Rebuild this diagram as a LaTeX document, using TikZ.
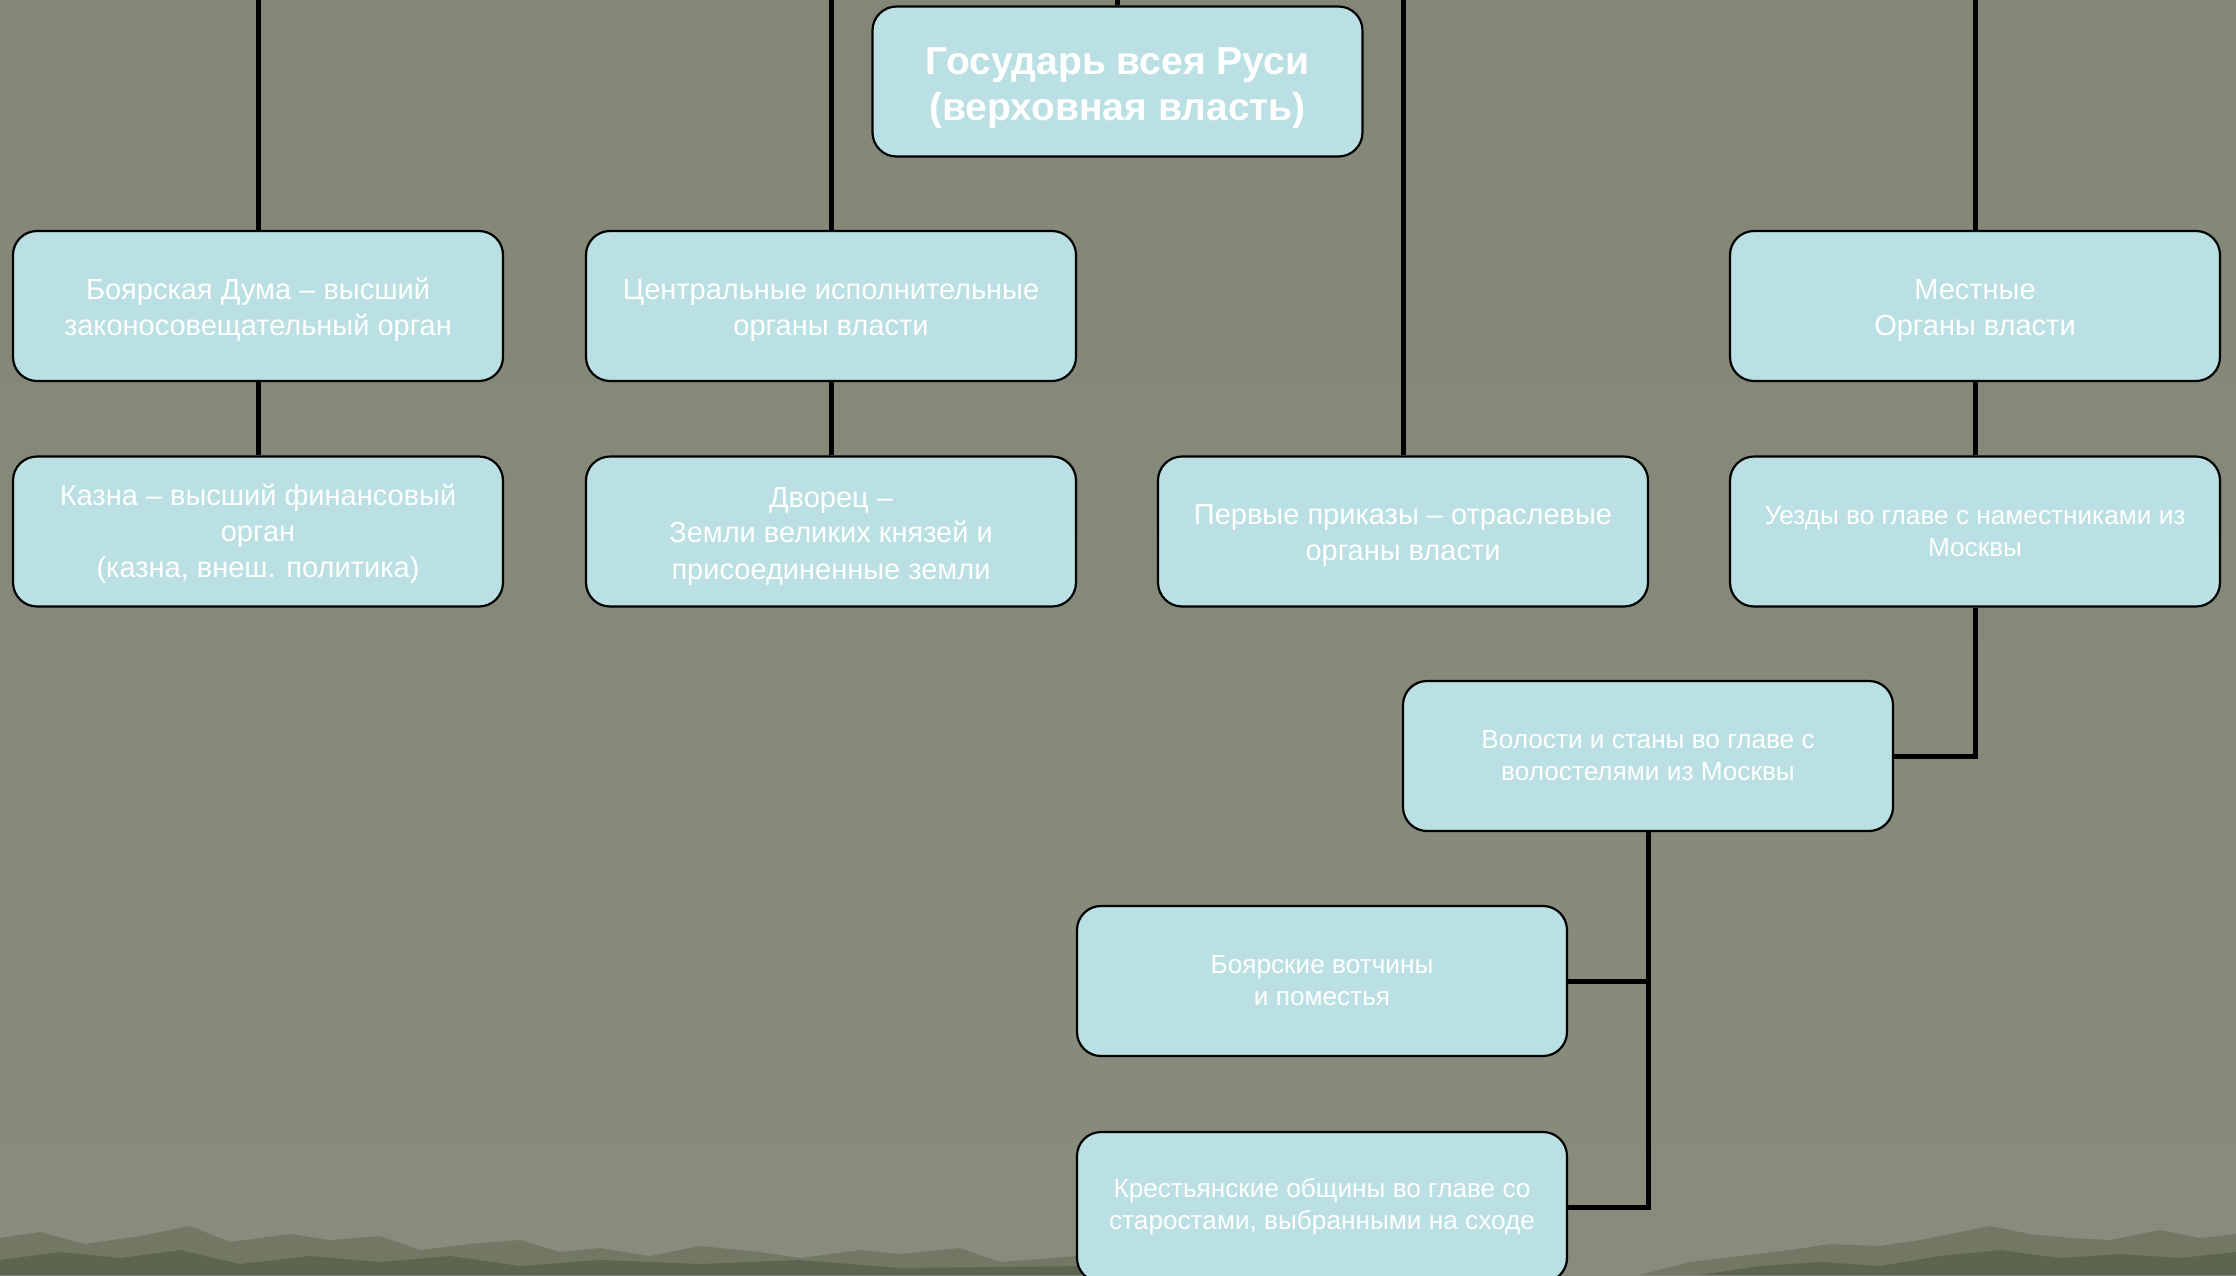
\documentclass[tikz,border=0pt]{standalone}
\usepackage{fontspec}
\setmainfont{Liberation Sans}
\definecolor{bgcol}{RGB}{136,140,124}
\definecolor{bgtop}{RGB}{130,135,120}
\definecolor{grunge}{RGB}{88,96,72}
\definecolor{grungedark}{RGB}{62,70,48}
\definecolor{boxfill}{RGB}{186,224,227}
\newcommand\lineup[1]{\rule{0pt}{#1}}
\begin{document}
\begin{tikzpicture}[x=1pt,y=-1pt,
  basebox/.style={draw=black, line width=2.2pt, fill=boxfill, rounded corners=24pt,
    minimum width=490pt, minimum height=150pt, align=center, text=white,
    inner sep=0pt},
  box/.style={basebox, font=\fontsize{29}{36}\selectfont},
  smallbox/.style={basebox, font=\fontsize{26.2}{32}\selectfont},
  topbox/.style={basebox, font=\bfseries\fontsize{39}{46}\selectfont},
  conn/.style={line width=5pt, draw=black}]
\useasboundingbox (0,0) rectangle (2236,1275);
\clip (0,0) rectangle (2236,1275);
% background
\shade[top color=bgtop, bottom color=bgcol] (0,0) rectangle (2236,1275);
% grunge at the bottom
\fill[grunge, opacity=0.45] (0,1238) -- (40,1232) -- (85,1244) -- (140,1236) -- (190,1226) -- (230,1242) -- (290,1234) -- (330,1240)
  -- (380,1236) -- (420,1250) -- (470,1244) -- (520,1240) -- (560,1252) -- (600,1248) -- (650,1256) -- (700,1246) -- (760,1252) -- (800,1258) -- (860,1250) -- (900,1254)
  -- (960,1248) -- (1000,1262) -- (1090,1255) -- (1090,1275) -- (0,1275) -- cycle;
\fill[grungedark, opacity=0.4] (0,1260) -- (60,1252) -- (120,1258) -- (180,1250) -- (240,1264) -- (310,1256) -- (380,1262) -- (450,1256) -- (520,1266)
  -- (600,1260) -- (700,1264) -- (800,1260) -- (900,1268) -- (1090,1266) -- (1090,1275) -- (0,1275) -- cycle;
\fill[grunge, opacity=0.45] (1640,1275) -- (1690,1262) -- (1740,1256) -- (1790,1250) -- (1830,1244) -- (1880,1246) -- (1920,1240)
  -- (1960,1232) -- (1990,1226) -- (2030,1234) -- (2070,1238) -- (2110,1240) -- (2160,1230) -- (2200,1238) -- (2236,1234) -- (2236,1275) -- cycle;
\fill[grungedark, opacity=0.4] (1700,1275) -- (1760,1266) -- (1820,1262) -- (1880,1266) -- (1940,1256) -- (2000,1250) -- (2060,1258) -- (2120,1254)
  -- (2180,1258) -- (2236,1252) -- (2236,1275) -- cycle;

% nodes
\node[topbox] (gos) at (1117.5,81.5) {\lineup{41pt}Государь всея Руси\\(верховная власть)};
\node[box] (duma) at (258,306) {\lineup{29pt}Боярская Дума – высший\\законосовещательный орган};
\node[box] (central) at (831,306) {\lineup{29pt}Центральные исполнительные\\органы власти};
\node[box] (mest) at (1975,306) {\lineup{29pt}Местные\\Органы власти};
\node[box] (kazna) at (258,531.5) {\lineup{25pt}Казна – высший финансовый\\орган\\(казна, внеш. политика)};
\node[box] (dvorets) at (831,531.5) {\lineup{29pt}Дворец –\\Земли великих князей и\\присоединенные земли};
\node[box] (prikazy) at (1403,531.5) {\lineup{29pt}Первые приказы – отраслевые\\органы власти};
\node[smallbox] (uezdy) at (1975,531.5) {Уезды во главе с наместниками из\\Москвы};
\node[smallbox] (volosti) at (1648,756) {Волости и станы во главе с\\волостелями из Москвы};
\node[smallbox] (votch) at (1322,981) {Боярские вотчины\\и поместья};
\node[smallbox] (obsch) at (1322,1207) {Крестьянские общины во главе со\\старостами, выбранными на сходе};

% free ends at the top edge
\coordinate (tg) at (1117.5,0);
\coordinate (t1) at (258,0);
\coordinate (t2) at (831,0);
\coordinate (t3) at (1403,0);
\coordinate (t4) at (1975,0);

% connectors
\draw[conn] (tg) -- (gos.north);
\draw[conn] (t1) -- (duma.north);
\draw[conn] (duma.south) -- (kazna.north);
\draw[conn] (t2) -- (central.north);
\draw[conn] (central.south) -- (dvorets.north);
\draw[conn] (t3) -- (prikazy.north);
\draw[conn] (t4) -- (mest.north);
\draw[conn] (mest.south) -- (uezdy.north);
\draw[conn] (uezdy.south) |- (volosti.east);
\draw[conn] (volosti.south) |- (obsch.east);
\draw[conn] (volosti.south |- votch.east) -- (votch.east);
\end{tikzpicture}
\end{document}
